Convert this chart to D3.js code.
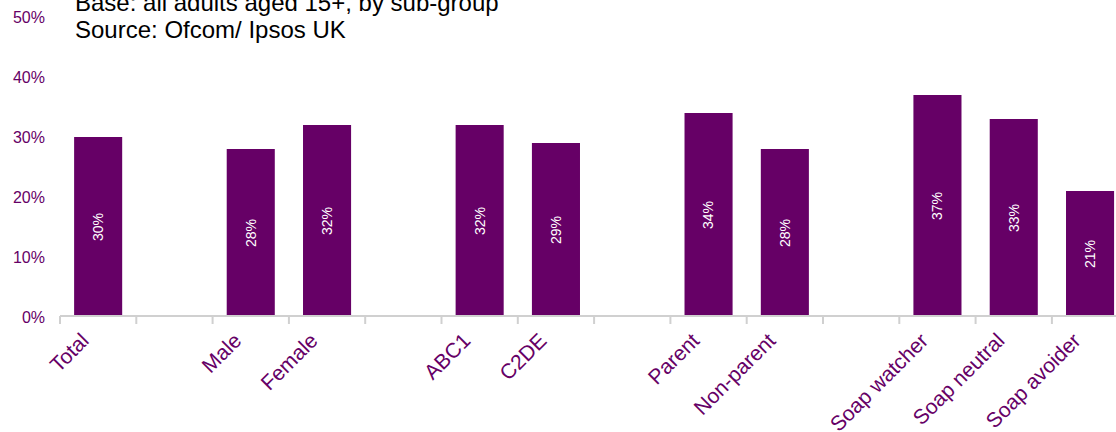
<!DOCTYPE html>
<html>
<head>
<meta charset="utf-8">
<script src="https://cdn.jsdelivr.net/npm/d3@7"></script>
<style>
  html, body { margin: 0; padding: 0; background: #fff; }
  svg { display: block; font-family: "Liberation Sans", Arial, sans-serif; }
</style>
</head>
<body>
<svg id="chart" width="1116" height="432"></svg>
<script>
const categories = ["Total", "", "Male", "Female", "", "ABC1", "C2DE", "", "Parent", "Non-parent", "", "Soap watcher", "Soap neutral", "Soap avoider"];
const values = [30, null, 28, 32, null, 32, 29, null, 34, 28, null, 37, 33, 21];
const yTicks = [0, 10, 20, 30, 40, 50];
const titleLines = ["Base: all adults aged 15+, by sub-group", "Source: Ofcom/ Ipsos UK"];

const purple = "#660066";
const svg = d3.select("#chart");

const x0 = 60, step = 76.3;
const x = d3.scaleBand()
  .domain(d3.range(categories.length))
  .range([x0, x0 + step * categories.length])
  .paddingInner(0.37)
  .paddingOuter(0.185);

const y = d3.scaleLinear().domain([0, 50]).range([317, 17]);

// title
svg.append("g").selectAll("text").data(titleLines).join("text")
  .attr("x", 75)
  .attr("y", (d, i) => 11 + i * 27)
  .attr("font-size", 24)
  .attr("fill", "#000")
  .text(d => d);

// y tick labels
svg.append("g").selectAll("text").data(yTicks).join("text")
  .attr("x", 45)
  .attr("y", d => y(d))
  .attr("dy", "0.35em")
  .attr("text-anchor", "end")
  .attr("font-size", 16)
  .attr("fill", purple)
  .text(d => d + "%");

// bars
const data = categories.map((c, i) => ({ i, c, v: values[i] })).filter(d => d.v != null);
svg.append("g").selectAll("rect").data(data).join("rect")
  .attr("x", d => x(d.i))
  .attr("width", x.bandwidth())
  .attr("y", d => y(d.v))
  .attr("height", d => y(0) - y(d.v))
  .attr("fill", purple);

// bar value labels
svg.append("g").selectAll("text").data(data).join("text")
  .attr("transform", d => `translate(${x(d.i) + x.bandwidth() / 2},${(y(d.v) + y(0)) / 2}) rotate(-90)`)
  .attr("text-anchor", "middle")
  .attr("dy", "0.35em")
  .attr("font-size", 14)
  .attr("fill", "#fff")
  .text(d => d.v + "%");

// x axis line and ticks
const axisY = 316;
svg.append("line")
  .attr("x1", x0).attr("x2", 1116)
  .attr("y1", axisY).attr("y2", axisY)
  .attr("stroke", "#d0d0d0").attr("stroke-width", 2);
svg.append("g").selectAll("line").data(d3.range(categories.length + 1)).join("line")
  .attr("x1", i => x0 + i * x.step()).attr("x2", i => x0 + i * x.step())
  .attr("y1", axisY).attr("y2", axisY + 8)
  .attr("stroke", "#d0d0d0").attr("stroke-width", 2);

// category labels
svg.append("g").selectAll("text").data(categories.map((c, i) => ({ c, i })).filter(d => d.c)).join("text")
  .attr("transform", d => `translate(${x(d.i) + x.bandwidth() / 2 - 8},342) rotate(-45)`)
  .attr("text-anchor", "end")
  .attr("font-size", 21)
  .attr("fill", purple)
  .text(d => d.c);
</script>
</body>
</html>
